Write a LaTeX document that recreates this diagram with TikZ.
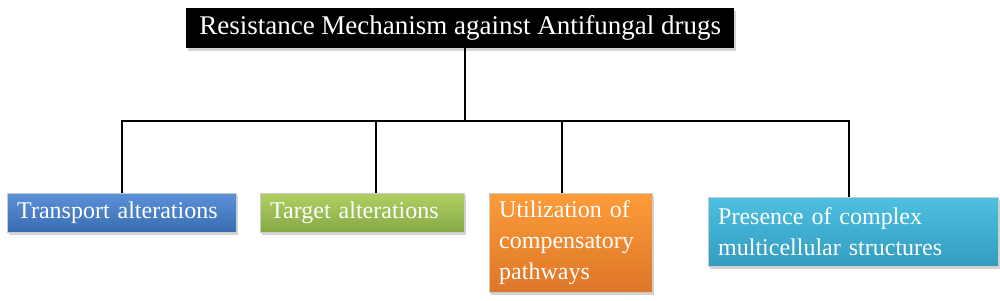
\documentclass[tikz,border=0pt]{standalone}
\usepackage{fontspec}
\setmainfont{Liberation Serif}
\usetikzlibrary{shadows}
\begin{document}
\begin{tikzpicture}[x=1pt,y=-1pt,
  box/.style={anchor=north west, inner xsep=10pt, inner ysep=2pt, align=left, text=white,
    font=\fontsize{24}{31}\selectfont, draw=black!20, line width=0.4pt,
    drop shadow={shadow xshift=2pt, shadow yshift=-3pt, opacity=0.35}},
  link/.style={line width=2.2pt, black}]
\useasboundingbox (0,0) rectangle (1000,300);
\node[anchor=north west, fill=black, minimum width=548pt, minimum height=40pt, inner sep=0pt,
  text=white, font=\fontsize{27}{30}\selectfont,
  drop shadow={shadow xshift=2pt, shadow yshift=-3pt, opacity=0.35}] (title) at (186,8)
  {Resistance Mechanism against Antifungal drugs};
\node[box, minimum width=229pt, minimum height=39pt, text width=209pt,
  top color={rgb,255:red,92;green,146;blue,218}, bottom color={rgb,255:red,56;green,108;blue,176}] (t) at (7,193) {Transport alterations};
\node[box, minimum width=204pt, minimum height=39pt, text width=184pt,
  top color={rgb,255:red,176;green,208;blue,98}, bottom color={rgb,255:red,134;green,168;blue,68}] (g) at (260,193) {Target alterations};
\node[box, minimum width=163pt, minimum height=99pt, text width=143pt, anchor=north west,
  top color={rgb,255:red,252;green,156;blue,58}, bottom color={rgb,255:red,222;green,118;blue,40}] (u) at (489,193) {Utilization of\\compensatory\\pathways};
\node[box, minimum width=290pt, minimum height=69pt, text width=270pt,
  top color={rgb,255:red,78;green,192;blue,226}, bottom color={rgb,255:red,50;green,156;blue,190}] (p) at (708,197) {Presence of complex\\multicellular structures};
\coordinate (hub) at (465,121);
\draw[link] (title.south -| hub) -- (hub);
\draw[link] (t.north -| 122,0) |- (hub);
\draw[link] (p.north -| 849,0) |- (hub);
\draw[link] (g.north -| 376,0) -- (376,121);
\draw[link] (u.north -| 562,0) -- (562,121);
\end{tikzpicture}
\end{document}
